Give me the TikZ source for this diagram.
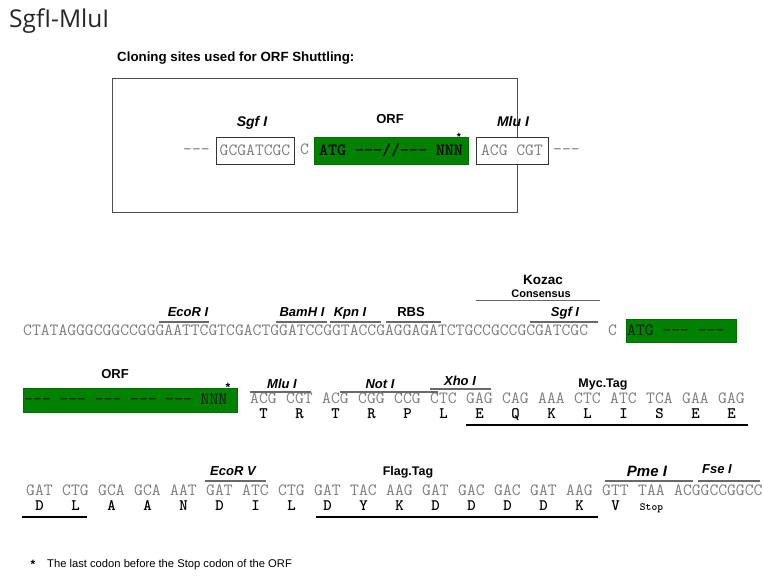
\documentclass[tikz,border=0pt]{standalone}
\usepackage{fontspec}
\setsansfont{Liberation Sans}
\newfontfamily\titlefont{Open Sans}
\definecolor{seqgray}{RGB}{125,125,125}
\definecolor{orfgreen}{RGB}{0,130,0}
\definecolor{bargray}{RGB}{105,105,105}
\newcommand\dsh{-\kern0pt-\kern0pt-}
\tikzset{
 seq/.style={font=\ttfamily\fontsize{17.14}{17}\selectfont, text=seqgray, inner sep=0pt, anchor=base west},
 aa/.style={font=\ttfamily\bfseries\fontsize{16}{16}\selectfont, text=black, inner sep=0pt, anchor=base},
 enz/.style={font=\sffamily\bfseries\itshape\fontsize{13}{13}\selectfont, inner sep=0pt, anchor=base},
 lab/.style={font=\sffamily\bfseries\fontsize{13}{13}\selectfont, inner sep=0pt, anchor=base},
 tag/.style={font=\sffamily\bfseries\fontsize{12.5}{12.5}\selectfont, inner sep=0pt, anchor=base},
 site/.style={draw=bargray, line width=1.2pt},
 tagline/.style={draw=black, line width=1.3pt},
 orfbox/.style={fill=orfgreen, draw=orfgreen!85!black, line width=0.6pt, inner sep=0pt, anchor=north west},
 orftext/.style={font=\ttfamily\fontsize{17.14}{17}\selectfont, text=black!90, inner sep=0pt, anchor=base west},
 sitebox/.style={draw=black!80, line width=0.8pt, fill=white, inner sep=0pt, minimum height=27pt,
   font=\ttfamily\fontsize{17.14}{17}\selectfont, text=seqgray},
 starmark/.style={font=\sffamily\bfseries\fontsize{12}{12}\selectfont, inner sep=0pt},
}
\begin{document}
\begin{tikzpicture}[x=1pt,y=-1pt]
\useasboundingbox[fill=white] (0,0) rectangle (764,577);

% title
\node[font=\titlefont\fontsize{24.5}{24.5}\selectfont, text=black!85, anchor=base west, inner sep=0pt] (title) at (9,28) {SgfI-MluI};
\node[font=\sffamily\bfseries\fontsize{13.3}{13.3}\selectfont, anchor=base west, inner sep=0pt] (subtitle) at (117,62) {Cloning sites used for ORF Shuttling:};

% top frame
\node[draw=black!70, line width=1pt, minimum width=405pt, minimum height=134pt, anchor=north west, inner sep=0pt] (frame) at (112,78) {};
\node[seq] (tl) at (183,155) {\dsh};
\node[sitebox, minimum width=78pt] (sgfbox) at (255,150.5) {GCGATCGC};
\node[seq] (tc) at (300,155) {C};
\node[orfbox, minimum width=154pt, minimum height=27pt, font=\ttfamily\bfseries\fontsize{17.14}{17}\selectfont, text=black, anchor=center] (torf) at (391,150.5) {ATG \dsh//\dsh{} NNN};
\node[sitebox, minimum width=72pt] (mlubox) at (512,150.5) {ACG CGT};
\node[seq] (tr) at (553,155) {\dsh};
\node[enz, font=\sffamily\bfseries\itshape\fontsize{14}{14}\selectfont] (tsgf) at (252,127) {Sgf I};
\node[lab] (torfl) at (390,124) {ORF};
\node[enz, font=\sffamily\bfseries\itshape\fontsize{14}{14}\selectfont] (tmlu) at (513,127) {Mlu I};
\node[starmark, font=\sffamily\bfseries\fontsize{10.5}{10.5}\selectfont] (tstar) at (459,137) {*};

% row 1
\node[seq] (s1) at (23,336) {CTATAGGGCGGCCGGGAATTCGTCGACTGGATCCGGTACCGAGGAGATCTGCCGCCGCGATCGC};
\node[seq] (c1) at (608,336) {C};
\node[orfbox, minimum width=110pt, minimum height=23pt] (orf1) at (626,319) {};
\node[orftext] (orf1t) at (627,336) {ATG \dsh{} \dsh};
\node[enz] (ecori) at (188,317) {EcoR I};
\node[enz] (bamhi) at (302,317) {BamH I};
\node[enz] (kpni) at (350,317) {Kpn I};
\node[lab] (rbs) at (411,317) {RBS};
\node[lab, font=\sffamily\bfseries\fontsize{13.5}{13.5}\selectfont] (kozac) at (543,285) {Kozac};
\node[lab, font=\sffamily\bfseries\fontsize{11}{11}\selectfont] (consensus) at (541,297.5) {Consensus};
\node[enz] (sgf1) at (565,317) {Sgf I};
\draw[site] (159,322) -- (209,322);
\draw[site] (276,322) -- (327,322);
\draw[site] (330,322) -- (381,322);
\draw[site] (386,322) -- (441,322);
\draw[site] (530,322) -- (598,322);
\draw[site] (476,300.5) -- (600,300.5);

% row 2
\node[orfbox, minimum width=214pt, minimum height=24pt] (orf2) at (23,388) {};
\node[orftext] (orf2t) at (24,405) {\dsh{} \dsh{} \dsh{} \dsh{} \dsh{} NNN};
\node[starmark] (star2) at (228,387) {*};
\node[lab] (orf2l) at (115,379) {ORF};
\foreach \c [count=\i from 0] in {ACG,CGT,ACG,CGG,CCG,CTC,GAG,CAG,AAA,CTC,ATC,TCA,GAA,GAG}
  \node[seq] (rb\i) at ({250+36*\i},404) {\c};
\foreach \a [count=\i from 0] in {T,R,T,R,P,L,E,Q,K,L,I,S,E,E}
  \node[aa] (ra\i) at ({263.5+36*\i},419) {\a};
\node[enz] (mlu2) at (282,389) {Mlu I};
\node[enz] (noti) at (380,389) {Not I};
\node[enz] (xhoi) at (460,386) {Xho I};
\node[tag] (myc) at (603,388) {Myc.Tag};
\draw[site] (250,392) -- (311,392);
\draw[site] (340,392) -- (438,392);
\draw[site] (430,389) -- (491,389);
\draw[tagline] (466,425) -- (748,425);

% row 3
\foreach \c [count=\i from 0] in {GAT,CTG,GCA,GCA,AAT,GAT,ATC,CTG,GAT,TAC,AAG,GAT,GAC,GAC,GAT,AAG,GTT,TAA}
  \node[seq] (tb\i) at ({26+36*\i},496) {\c};
\node[seq] (tbend) at (674,496) {ACGGCCGGCC};
\foreach \a [count=\i from 0] in {D,L,A,A,N,D,I,L,D,Y,K,D,D,D,D,K,V}
  \node[aa] (ta\i) at ({39.5+36*\i},511) {\a};
\node[aa, font=\ttfamily\bfseries\fontsize{11}{11}\selectfont] (stop) at (651.5,511) {Stop};
\node[enz] (ecorv) at (233,475.5) {EcoR V};
\node[tag] (flag) at (408,475.5) {Flag.Tag};
\node[enz, font=\sffamily\bfseries\itshape\fontsize{15}{15}\selectfont] (pmei) at (647,476.5) {Pme I};
\node[enz] (fsei) at (717,473.5) {Fse I};
\draw[site] (205,481) -- (266,481);
\draw[site] (605,481) -- (693,481);
\draw[site] (698,481) -- (760,481);
\draw[tagline] (22,517) -- (87,517);
\draw[tagline] (316,517) -- (598,517);

% footnote
\node[starmark] (fstar) at (33,564) {*};
\node[font=\sffamily\fontsize{11.2}{11.2}\selectfont, anchor=base west, inner sep=0pt] (fnote) at (47,567) {The last codon before the Stop codon of the ORF};
\end{tikzpicture}
\end{document}
